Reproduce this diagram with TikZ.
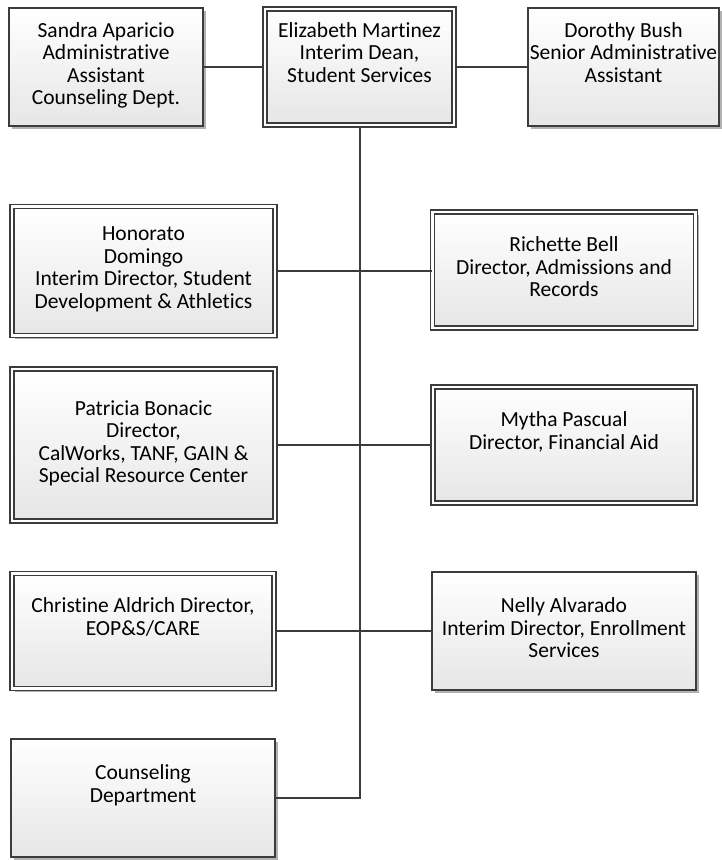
\documentclass[tikz,border=0pt]{standalone}
\usepackage{fontspec}
\setmainfont{Carlito}[Ligatures=NoCommon]
\usetikzlibrary{shadows}
\definecolor{edge}{HTML}{3C3C3C}
\definecolor{fillbot}{HTML}{E6E6E6}
\begin{document}
\begin{tikzpicture}[x=1pt,y=-1pt,
  box/.style={draw=edge, line width=1.9pt, top color=white, bottom color=fillbot,
    align=center, inner sep=0pt, font=\fontsize{21.5}{22.5}\selectfont,
    execute at begin node=\strut, execute at end node=\strut,
    drop shadow={shadow xshift=3pt, shadow yshift=-3pt, opacity=0.3, fill=black}},
  dbox/.style={box, double=white, double distance=2.2pt, line width=1.5pt},
  link/.style={draw=edge, line width=2pt}]
\useasboundingbox (0,0) rectangle (722,860);

% top row
\node[box, minimum width=194pt, minimum height=118pt] (sandra) at (106,67)
  {Sandra Aparicio\\Administrative\\Assistant\\Counseling Dept.};
\node[dbox, minimum width=189pt, minimum height=116pt] (dean) at (359.5,67)
  {Elizabeth Martinez\\Interim Dean,\\Student Services\\~};
\node[box, minimum width=191pt, minimum height=118pt] (dorothy) at (623.5,67)
  {Dorothy Bush\\Senior Administrative\\Assistant\\~};

% left column
\node[dbox, minimum width=263pt, minimum height=129pt] (honorato) at (143.5,271)
  {Honorato\\Domingo\\Interim Director, Student\\Development \& Athletics};
\node[dbox, minimum width=263pt, minimum height=152pt] (patricia) at (143.5,445)
  {Patricia Bonacic\\Director,\\CalWorks, TANF, GAIN \&\\Special Resource Center};
\node[dbox, minimum width=262pt, minimum height=115pt] (christine) at (143,631)
  {Christine Aldrich Director,\\EOP\&S/CARE\\~};
\node[box, minimum width=264pt, minimum height=118pt] (counsel) at (143,798)
  {Counseling\\Department\\~};

% right column
\node[dbox, minimum width=263pt, minimum height=116pt] (richette) at (564,270)
  {Richette Bell\\Director, Admissions and\\Records};
\node[dbox, minimum width=262pt, minimum height=116pt] (mytha) at (564,445)
  {Mytha Pascual\\Director, Financial Aid\\~};
\node[box, minimum width=264pt, minimum height=118pt] (nelly) at (564,631)
  {Nelly Alvarado\\Interim Director, Enrollment\\Services};

% connectors
\draw[link] (sandra.east) -- (dean.west);
\draw[link] (dean.east) -- (dorothy.west);
\draw[link] (dean.south) |- (counsel.east);
\draw[link] (honorato.east) -- (honorato.east -| richette.west);
\draw[link] (patricia.east) -- (mytha.west);
\draw[link] (christine.east) -- (nelly.west);
\end{tikzpicture}
\end{document}
